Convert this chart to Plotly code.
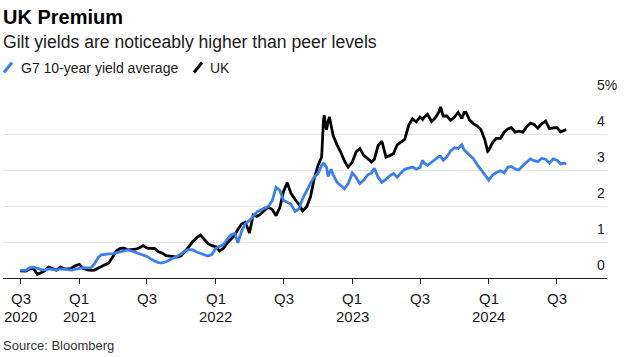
import plotly.graph_objects as go

dates = [
    "2020-07-27", "2020-08-01", "2020-08-11", "2020-08-21", "2020-09-01", "2020-09-11", "2020-09-21",
    "2020-10-01", "2020-10-11", "2020-10-21", "2020-11-01", "2020-11-11", "2020-11-21",
    "2020-12-01", "2020-12-11", "2020-12-21", "2021-01-01", "2021-01-11", "2021-01-21",
    "2021-02-01", "2021-02-11", "2021-02-21", "2021-03-01", "2021-03-11", "2021-03-21",
    "2021-04-01", "2021-04-11", "2021-04-21", "2021-05-01", "2021-05-11", "2021-05-21",
    "2021-06-01", "2021-06-11", "2021-06-21", "2021-07-01", "2021-07-11", "2021-07-21",
    "2021-08-01", "2021-08-11", "2021-08-21", "2021-09-01", "2021-09-11", "2021-09-21",
    "2021-10-01", "2021-10-11", "2021-10-21", "2021-11-01", "2021-11-11", "2021-11-21",
    "2021-12-01", "2021-12-11", "2021-12-21", "2022-01-01", "2022-01-11", "2022-01-21",
    "2022-02-01", "2022-02-11", "2022-02-21", "2022-03-01", "2022-03-11", "2022-03-21",
    "2022-04-01", "2022-04-11", "2022-04-21", "2022-05-01", "2022-05-11", "2022-05-21",
    "2022-06-01", "2022-06-11", "2022-06-21", "2022-07-01", "2022-07-11", "2022-07-21",
    "2022-08-01", "2022-08-11", "2022-08-21", "2022-09-01", "2022-09-11", "2022-09-21",
    "2022-10-01", "2022-10-11", "2022-10-16", "2022-10-18", "2022-10-21", "2022-10-24",
    "2022-10-28", "2022-11-01", "2022-11-05", "2022-11-11", "2022-11-21",
    "2022-12-01", "2022-12-11", "2022-12-21", "2023-01-01", "2023-01-11", "2023-01-21",
    "2023-02-01", "2023-02-11", "2023-02-21", "2023-03-01", "2023-03-11", "2023-03-21",
    "2023-04-01", "2023-04-11", "2023-04-21", "2023-05-01", "2023-05-11", "2023-05-21",
    "2023-06-01", "2023-06-11", "2023-06-21", "2023-07-01", "2023-07-08", "2023-07-11",
    "2023-07-21", "2023-08-01", "2023-08-11", "2023-08-21", "2023-08-25", "2023-09-01",
    "2023-09-11", "2023-09-21", "2023-10-01", "2023-10-11", "2023-10-21", "2023-10-27",
    "2023-11-01", "2023-11-11", "2023-11-21", "2023-12-01", "2023-12-11", "2023-12-21",
    "2023-12-29", "2024-01-01", "2024-01-11", "2024-01-21", "2024-02-01", "2024-02-11",
    "2024-02-21", "2024-03-01", "2024-03-11", "2024-03-21", "2024-04-01", "2024-04-11",
    "2024-04-21", "2024-05-01", "2024-05-11", "2024-05-21", "2024-06-01", "2024-06-11",
    "2024-06-21", "2024-07-01", "2024-07-11", "2024-07-21", "2024-07-26",
]

g7_avg = [
    0.22, 0.21, 0.21, 0.28, 0.30, 0.27, 0.23,
    0.22, 0.25, 0.24, 0.22, 0.25, 0.25,
    0.23, 0.22, 0.24, 0.26, 0.29, 0.28,
    0.28, 0.40, 0.58, 0.64, 0.66, 0.67,
    0.68, 0.70, 0.72, 0.75, 0.78, 0.75,
    0.71, 0.68, 0.65, 0.60, 0.53, 0.47,
    0.43, 0.42, 0.45, 0.50, 0.56, 0.61,
    0.67, 0.76, 0.79, 0.78, 0.72, 0.68,
    0.63, 0.61, 0.65, 0.82, 0.88, 0.92,
    1.08, 1.20, 1.24, 0.98, 1.30, 1.50,
    1.60, 1.70, 1.84, 1.90, 1.94, 1.98,
    2.15, 2.52, 2.44, 2.16, 2.10, 2.05,
    1.85, 1.92, 2.20, 2.44, 2.63, 2.80,
    2.90, 3.13, 3.18, 3.17, 3.12, 3.08,
    2.82, 2.95, 3.02, 2.86, 2.66,
    2.57, 2.48, 2.62, 2.92, 2.80, 2.62,
    2.72, 2.86, 2.92, 3.05, 2.80, 2.66,
    2.74, 2.84, 2.90, 2.80, 2.92, 3.02,
    3.05, 3.08, 3.02, 3.07, 3.27, 3.20,
    3.13, 3.22, 3.29, 3.38, 3.38, 3.27,
    3.37, 3.53, 3.62, 3.60, 3.70, 3.55,
    3.51, 3.40, 3.31, 3.15, 3.00, 2.88,
    2.73, 2.72, 2.86, 2.93, 2.98, 2.92,
    3.08, 3.10, 3.03, 3.00, 3.12, 3.21,
    3.31, 3.26, 3.23, 3.32, 3.30, 3.19,
    3.31, 3.27, 3.17, 3.19, 3.16,
]

uk = [
    0.20, 0.19, 0.19, 0.25, 0.26, 0.10, 0.14,
    0.20, 0.30, 0.26, 0.22, 0.30, 0.26,
    0.25, 0.27, 0.34, 0.38, 0.27, 0.23,
    0.21, 0.22, 0.28, 0.32, 0.35, 0.42,
    0.60, 0.76, 0.82, 0.83, 0.78, 0.78,
    0.80, 0.84, 0.90, 0.83, 0.83, 0.82,
    0.73, 0.69, 0.62, 0.60, 0.59, 0.58,
    0.62, 0.73, 0.87, 1.02, 1.12, 1.19,
    1.07, 0.96, 0.90, 0.87, 0.75, 0.82,
    0.98, 1.08, 1.19, 1.35, 1.50, 1.55,
    1.25, 1.75, 1.71, 1.78, 1.87, 1.97,
    1.90, 1.73, 1.95, 2.40, 2.65, 2.35,
    2.18, 2.05, 1.86, 1.98, 2.25, 2.75,
    3.12, 3.36, 4.40, 4.52, 4.25, 4.12,
    4.35, 4.47, 4.25, 3.95, 3.70,
    3.50, 3.25, 3.08, 3.22, 3.50, 3.60,
    3.40, 3.32, 3.22, 3.30, 3.68, 3.80,
    3.36, 3.40, 3.45, 3.70, 3.77, 3.85,
    4.25, 4.42, 4.34, 4.47, 4.40, 4.45,
    4.55, 4.35, 4.45, 4.62, 4.75, 4.50,
    4.50, 4.38, 4.47, 4.60, 4.43, 4.60,
    4.60, 4.38, 4.29, 4.22, 4.12, 3.85,
    3.52, 3.55, 3.76, 3.88, 3.88, 4.05,
    4.14, 4.18, 4.05, 4.08, 4.05, 4.20,
    4.30, 4.27, 4.16, 4.28, 4.36, 4.15,
    4.17, 4.18, 4.06, 4.10, 4.12,
]

tick_dates = ["2020-07-28", "2021-01-01", "2021-07-01", "2022-01-01", "2022-07-01",
              "2023-01-01", "2023-07-01", "2024-01-01", "2024-07-01"]
tick_quarter = ["Q3", "Q1", "Q3", "Q1", "Q3", "Q1", "Q3", "Q1", "Q3"]
tick_year = ["2020", "2021", "", "2022", "", "2023", "", "2024", ""]
y_ticks = [0, 1, 2, 3, 4, 5]
y_tick_text = ["0", "1", "2", "3", "4", "5%"]

BLUE = "#3a7ff0"
FONT = "Liberation Sans, Arial, sans-serif"

W, H = 630, 357
ML, MR, MT, MB = 3, 23, 98, 79
PW, PH = W - ML - MR, H - MT - MB


def px(x):
    return (x - ML) / PW


def py(y):
    return (H - MB - y) / PH


fig = go.Figure()
fig.add_trace(go.Scatter(x=dates, y=uk, mode="lines", name="UK",
                         line=dict(color="#000000", width=2.8)))
fig.add_trace(go.Scatter(x=dates, y=g7_avg, mode="lines", name="G7 10-year yield average",
                         line=dict(color=BLUE, width=2.8)))

annotations = [
    dict(text="<b>UK Premium</b>", x=px(3), y=py(17), font=dict(size=20, color="#000")),
    dict(text="Gilt yields are noticeably higher than peer levels", x=px(3), y=py(42),
         font=dict(size=17.6, color="#1a1a1a")),
    dict(text="G7 10-year yield average", x=px(21), y=py(68), font=dict(size=14, color="#1a1a1a")),
    dict(text="UK", x=px(210), y=py(68), font=dict(size=14, color="#1a1a1a")),
    dict(text="Source: Bloomberg", x=px(3), y=py(345), font=dict(size=13, color="#333")),
]
for a in annotations:
    a.update(xref="paper", yref="paper", xanchor="left", yanchor="middle",
             showarrow=False, xshift=-2)
for v, t in zip(y_ticks, y_tick_text):
    annotations.append(dict(text=t, x=px(597), y=v, xref="paper", yref="y",
                            xanchor="left", yanchor="middle", yshift=13, showarrow=False,
                            xshift=-2, font=dict(size=14, color="#1a1a1a")))
for d, q, yr in zip(tick_dates, tick_quarter, tick_year):
    annotations.append(dict(text=q, x=d, y=py(298), xref="x", yref="paper",
                            xanchor="center", yanchor="middle", showarrow=False,
                            font=dict(size=15, color="#1a1a1a")))
    if yr:
        annotations.append(dict(text=yr, x=d, y=py(316.5), xref="x", yref="paper",
                                xanchor="center", yanchor="middle", showarrow=False,
                                font=dict(size=15, color="#1a1a1a")))

shapes = [
    dict(type="line", xref="paper", yref="paper", x0=px(4), y0=py(72.5), x1=px(12), y1=py(62.5),
         line=dict(color=BLUE, width=3)),
    dict(type="line", xref="paper", yref="paper", x0=px(194), y0=py(72.5), x1=px(202), y1=py(62.5),
         line=dict(color="#000", width=3)),
]

fig.update_layout(
    width=W, height=H,
    margin=dict(l=ML, r=MR, t=MT, b=MB),
    plot_bgcolor="white", paper_bgcolor="white",
    showlegend=False,
    font=dict(family=FONT, color="#1a1a1a"),
    annotations=annotations,
    shapes=shapes,
    xaxis=dict(
        type="date", range=["2020-06-11", "2024-11-12"],
        tickvals=tick_dates, showticklabels=False,
        showgrid=False, showline=True, linecolor="#222", linewidth=1,
        ticks="outside", ticklen=5, tickcolor="#222", tickwidth=1,
        zeroline=False,
    ),
    yaxis=dict(
        range=[0, 5], tickvals=y_ticks, showticklabels=False,
        showgrid=True, gridcolor="#e6e6e6", gridwidth=1, zeroline=False,
    ),
)

fig.write_html("out.html", config={"displayModeBar": False},
               post_script="document.body.style.margin='0';document.body.style.overflow='hidden';")
